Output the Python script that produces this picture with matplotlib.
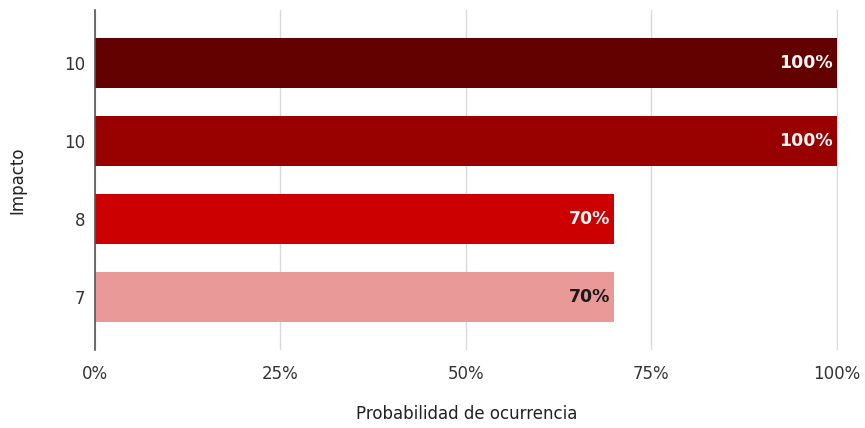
import matplotlib.pyplot as plt
import matplotlib.ticker as mticker

plt.rcParams['font.family'] = ['DejaVu Sans']

# Data
impact_labels = ['10', '10', '8', '7']
probability = [100, 100, 70, 70]
bar_colors = ['#630000', '#990000', '#cc0000', '#ea9999']
label_colors = ['#f5f5f5', '#f5f5f5', '#f5f5f5', '#1a1a1a']
x_ticks = [0, 25, 50, 75, 100]

fig = plt.figure(figsize=(8.65, 4.28), dpi=100)
ax = fig.add_axes([0.1098, 0.1822, 0.8590, 0.7944])

positions = list(range(len(probability)))
bars = ax.barh(positions, probability, height=0.64, color=bar_colors, zorder=3)

# Value labels inside the bar ends
for bar, value, lc in zip(bars, probability, label_colors):
    ax.text(value - 0.6, bar.get_y() + bar.get_height() / 2, f'{value}%',
            ha='right', va='center', fontsize=12.5, fontweight='bold',
            color=lc, zorder=4)

ax.set_ylim(len(probability) - 1 + 0.68, -0.68)
ax.set_xlim(0, 100.15)
ax.set_yticks(positions)
ax.set_yticklabels(impact_labels)
ax.set_xticks(x_ticks)
ax.xaxis.set_major_formatter(mticker.FuncFormatter(lambda v, p: f'{v:.0f}%'))

ax.grid(axis='x', color='#d9d9d9', linewidth=1, zorder=0)
for side in ['top', 'right', 'bottom']:
    ax.spines[side].set_visible(False)
ax.spines['left'].set_color('#555555')
ax.spines['left'].set_linewidth(1.2)
ax.spines['left'].set_zorder(5)

ax.tick_params(axis='y', length=0, pad=7, labelsize=12, labelcolor='#333333')
ax.tick_params(axis='x', length=0, pad=11, labelsize=12, labelcolor='#333333')

ax.set_xlabel('Probabilidad de ocurrencia', fontsize=12, color='#222222')
ax.set_ylabel('Impacto', fontsize=12, color='#222222')
ax.xaxis.set_label_coords(0.5, -0.162)
ax.yaxis.set_label_coords(-0.092, 0.5)

fig.savefig('out.png', dpi=100)
